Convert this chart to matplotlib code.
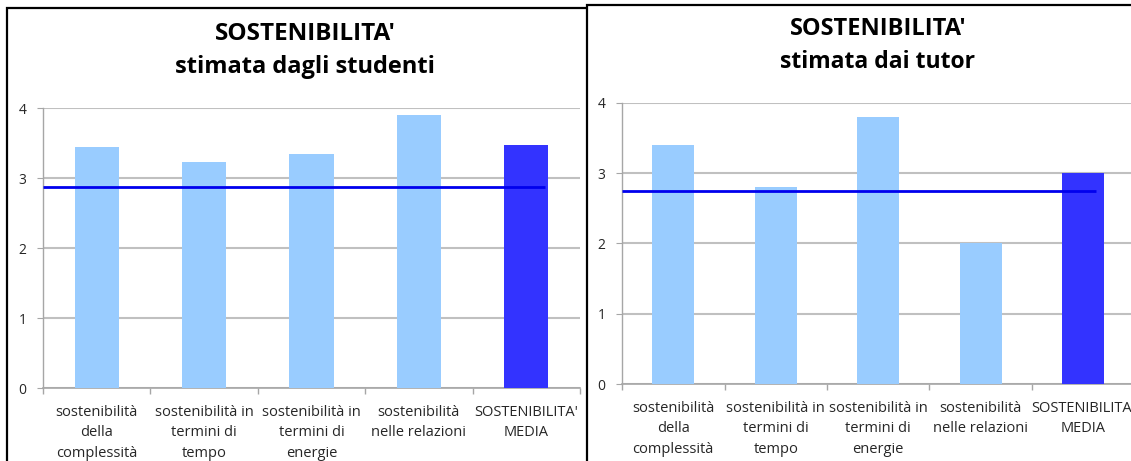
import matplotlib
matplotlib.use("Agg")
import matplotlib.pyplot as plt
from matplotlib.patches import Rectangle
import numpy as np

categories = ["sostenibilità\ndella\ncomplessità",
              "sostenibilità in\ntermini di\ntempo",
              "sostenibilità in\ntermini di\nenergie",
              "sostenibilità\nnelle relazioni",
              "SOSTENIBILITA'\nMEDIA"]
studenti_values = [3.45, 3.23, 3.34, 3.90, 3.47]
studenti_mean_line = 2.87
tutor_values = [3.40, 2.80, 3.80, 2.00, 3.00]
tutor_mean_line = 2.75
yticks = [0, 1, 2, 3, 4]
title_main = "SOSTENIBILITA'"
title_left = "stimata dagli studenti"
title_right = "stimata dai tutor"

W, H = 1131, 461
DPI = 100
plt.rcParams['font.family'] = ['Open Sans', 'DejaVu Sans']
fig = plt.figure(figsize=(W / DPI, H / DPI), dpi=DPI)
fig.patch.set_facecolor('white')

LIGHT = '#99CCFF'
DARK = '#3333FF'
LINE = '#0000EE'
GRID = '#C0C0C0'
TXT = '#262626'


def px_rect(x0, y0, x1, y1):
    """pixel box (top-left origin) -> figure fraction [l, b, w, h]"""
    return [x0 / W, (H - y1) / H, (x1 - x0) / W, (y1 - y0) / H]


def draw_panel(ax, values, mean_val, line_end, ypad):
    n = len(values)
    x = np.arange(n)
    colors = [LIGHT] * (n - 1) + [DARK]
    ax.bar(x, values, width=0.41, color=colors, zorder=3)
    ax.plot([-0.5, line_end], [mean_val, mean_val], color=LINE, lw=2.0, zorder=4,
            solid_capstyle='butt')
    ax.set_xlim(-0.5, n - 0.5)
    ax.set_ylim(0, 4)
    ax.set_yticks(yticks)
    ax.yaxis.grid(True, color=GRID, lw=1.5, zorder=0)
    ax.set_axisbelow(True)
    for s in ['top', 'right']:
        ax.spines[s].set_visible(False)
    ax.spines['left'].set_color('#A6A6A6')
    ax.spines['bottom'].set_color('#A6A6A6')
    ax.spines['left'].set_linewidth(1.0)
    ax.spines['bottom'].set_linewidth(1.2)
    ax.set_xticks(x)
    ax.set_xticklabels(categories, fontsize=10.5, color=TXT, linespacing=1.52)
    ax.tick_params(axis='x', length=0, pad=12)
    ax.set_xticks(np.arange(n + 1) - 0.5, minor=True)
    ax.tick_params(axis='x', which='minor', length=4, color='#A6A6A6', width=1)
    ax.tick_params(axis='y', length=4, color='#A6A6A6', labelsize=10,
                   labelcolor=TXT, pad=ypad)
    ax.patch.set_alpha(0)


# Left panel border
fig.add_artist(Rectangle((7 / W, -0.1), 1.0, (H - 8) / H + 0.1,
                         transform=fig.transFigure, facecolor='white',
                         edgecolor='black', lw=1.6, zorder=0.1))
axL = fig.add_axes(px_rect(43, 108, 580, 388))
axL.set_zorder(1)
draw_panel(axL, studenti_values, studenti_mean_line, 4.17, 8)
fig.text(305 / W, 1 - 34 / H, title_main, ha='center', va='center',
         fontsize=17.5, fontweight='bold', color='black', zorder=2)
fig.text(305 / W, 1 - 67 / H, title_left, ha='center', va='center',
         fontsize=17, fontweight='bold', color='black', zorder=2)

# Right panel (overlapping)
fig.add_artist(Rectangle((587 / W, -0.1), 1.0, (H - 5) / H + 0.1,
                         transform=fig.transFigure, facecolor='white',
                         edgecolor='black', lw=1.6, zorder=5))
axR = fig.add_axes(px_rect(622, 103, 1134.5, 384))
axR.set_zorder(6)
draw_panel(axR, tutor_values, tutor_mean_line, 4.12, 8)
fig.text(878 / W, 1 - 29 / H, title_main, ha='center', va='center',
         fontsize=17, fontweight='bold', color='black', zorder=7)
fig.text(878 / W, 1 - 62 / H, title_right, ha='center', va='center',
         fontsize=16.5, fontweight='bold', color='black', zorder=7)

fig.savefig('out.png', dpi=DPI, facecolor='white')
